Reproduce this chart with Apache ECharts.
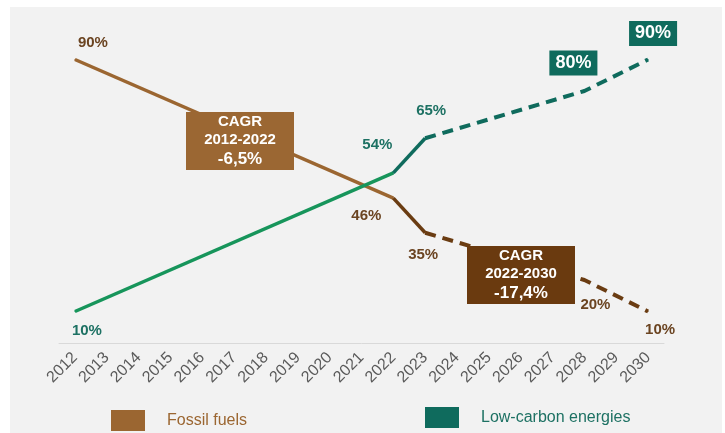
<!DOCTYPE html>
<html lang="en">
<head>
    <meta charset="UTF-8">
    <title>Fossil fuels vs low-carbon energies</title>
    <script src="https://cdn.jsdelivr.net/npm/echarts@6/dist/echarts.min.js"></script>
    <style>
        body { margin: 0; padding: 0; background: #fff; }
        #panel { position: absolute; left: 10px; top: 7px; width: 712px; height: 426px; background: #f2f2f2; }
        #chart { position: absolute; left: 0; top: 0; width: 725px; height: 433px; }
    </style>
</head>
<body>
    <div id="panel"></div>
    <div id="chart"></div>
    <script>
        // data (null = no value shown)
        var years = ['2012', '2013', '2014', '2015', '2016', '2017', '2018', '2019', '2020', '2021',
            '2022', '2023', '2024', '2025', '2026', '2027', '2028', '2029', '2030'];
        var fossil = [90, null, null, null, null, null, null, null, null, null, 46, 35, null, null, null, null, 20, null, 10];
        var lowCarbon = [10, null, null, null, null, null, null, null, null, null, 54, 65, null, null, null, null, 80, null, 90];
        var cagrHist = ['CAGR', '2012-2022', '-6,5%'];
        var cagrProj = ['CAGR', '2022-2030', '-17,4%'];
        var legendNames = ['Fossil fuels', 'Low-carbon energies'];

        var font = 'Liberation Sans, Arial, sans-serif';
        var col = {
            fossilLight: '#9b6631', fossilDark: '#6a3c12', fossilText: '#6b4421',
            green: '#17955b', teal: '#0f6b5d', tealText: '#1d7163'
        };

        // label offsets (px from the point to the label centre)
        var fossilLabelPos = { 0: [18, -17], 10: [-27, 18], 11: [-2, 22], 16: [11, 25], 18: [12, 18] };
        var lowLabelPos = { 0: [12, 19], 10: [-16, -28], 11: [6, -27], 16: [-11, -28], 18: [5, -26] };
        var boxed = { 16: true, 18: true };

        function segment(name, values, from, to, color, dashed, labelPos, labelColor, boxLabels) {
            var data = values.map(function (v, i) {
                if (i < from || i > to || v === null) return null;
                var own = i < to || to === values.length - 1;
                var off = labelPos[i] || [0, 0];
                var lab = {
                    show: own,
                    position: 'inside',
                    offset: off,
                    formatter: v + '%',
                    fontFamily: font,
                    fontWeight: 'bold',
                    fontSize: 15,
                    color: labelColor
                };
                if (boxLabels && boxed[i]) {
                    lab.backgroundColor = col.teal;
                    lab.color = '#fff';
                    lab.fontSize = 18;
                    lab.padding = [4, 6, 3, 6];
                }
                return { value: v, label: lab };
            });
            return {
                name: name,
                type: 'line',
                data: data,
                connectNulls: true,
                symbol: 'circle',
                symbolSize: 1,
                itemStyle: { color: color },
                lineStyle: { color: color, width: dashed ? 4 : 3.5, type: dashed ? [11, 7] : 'solid', cap: 'butt' },
                emphasis: { disabled: true },
                animation: false,
                z: 3
            };
        }

        function cagrBox(lines, x, y, fill) {
            return {
                type: 'group',
                left: x, top: y,
                z: 20,
                children: [
                    { type: 'rect', z: 20, shape: { x: 0, y: 0, width: 108, height: 58 }, style: { fill: fill } },
                    {
                        type: 'text', x: 54, y: 29, z: 21,
                        style: {
                            text: '{a|' + lines[0] + '}\n{a|' + lines[1] + '}\n{b|' + lines[2] + '}',
                            align: 'center', verticalAlign: 'middle',
                            rich: {
                                a: { fontFamily: font, fontWeight: 'bold', fontSize: 15, lineHeight: 18, fill: '#fff', align: 'center' },
                                b: { fontFamily: font, fontWeight: 'bold', fontSize: 17, lineHeight: 21, fill: '#fff', align: 'center' }
                            }
                        }
                    }
                ]
            };
        }

        function legendAt(name, left, top, color, textColor) {
            return {
                left: left, top: top, padding: 0,
                icon: 'rect', itemWidth: 34, itemHeight: 21,
                selectedMode: false,
                data: [{ name: name, itemStyle: { color: color }, textStyle: { color: textColor } }],
                textStyle: { fontFamily: font, fontSize: 16, padding: [0, 0, 0, 17] }
            };
        }

        var chart = echarts.init(document.getElementById('chart'));
        var option = {
            backgroundColor: 'transparent',
            grid: { left: 59, right: 61, top: 28, bottom: 90 },
            xAxis: {
                type: 'category',
                data: years,
                axisLine: { lineStyle: { color: '#d9d9d9', width: 1 } },
                axisTick: { show: false },
                axisLabel: { interval: 0, rotate: 45, margin: 12, fontFamily: font, fontSize: 16, color: '#5a5a5a' }
            },
            yAxis: { type: 'value', min: 0, max: 100, show: false, splitLine: { show: false } },
            legend: [
                legendAt(legendNames[0], 111, 410, col.fossilLight, '#9b6631'),
                legendAt(legendNames[1], 425, 407, col.teal, '#1d7163')
            ],
            graphic: [
                cagrBox(cagrHist, 186, 112, '#9b6733'),
                cagrBox(cagrProj, 467, 246, '#6a3a0f')
            ],
            series: [
                segment(legendNames[0], fossil, 0, 10, col.fossilLight, false, fossilLabelPos, col.fossilText),
                segment('fossil-2023', fossil, 10, 11, col.fossilDark, false, fossilLabelPos, col.fossilText),
                segment('fossil-proj', fossil, 11, 18, col.fossilDark, true, fossilLabelPos, col.fossilText),
                segment('low-hist', lowCarbon, 0, 10, col.green, false, lowLabelPos, col.tealText),
                segment(legendNames[1], lowCarbon, 10, 11, col.teal, false, lowLabelPos, col.tealText),
                segment('low-proj', lowCarbon, 11, 18, col.teal, true, lowLabelPos, col.tealText, true)
            ]
        };
        chart.setOption(option);
    </script>
</body>
</html>
